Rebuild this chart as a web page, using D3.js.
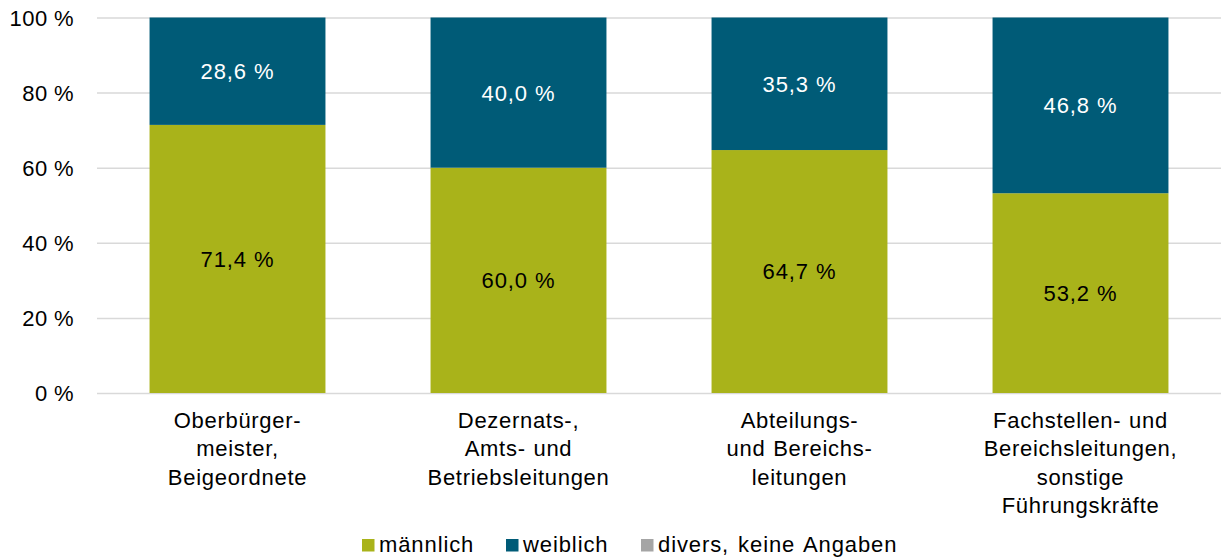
<!DOCTYPE html>
<html>
<head>
<meta charset="utf-8">
<script src="https://cdn.jsdelivr.net/npm/d3@7/dist/d3.min.js"></script>
<style>
    body { margin: 0; background: #fff; }
    svg text { font-family: "Liberation Sans", Arial, sans-serif; }
</style>
</head>
<body>
<div id="chart"></div>
<script>
// categories (lines of each axis label)
var categories = [
    ['Oberbürger-', 'meister,', 'Beigeordnete'],
    ['Dezernats-,', 'Amts- und', 'Betriebsleitungen'],
    ['Abteilungs-', 'und Bereichs-', 'leitungen'],
    ['Fachstellen- und', 'Bereichsleitungen,', 'sonstige', 'Führungskräfte']
];
var seriesNames = ['männlich', 'weiblich', 'divers, keine Angaben'];
var maennlich = [71.4, 60.0, 64.7, 53.2];
var weiblich = [28.6, 40.0, 35.3, 46.8];
var divers = [0, 0, 0, 0];
var yTicks = [0, 20, 40, 60, 80, 100];

var colors = ['#a9b31a', '#005b77', '#a5a5a5'];
var labelColors = ['#000', '#fff', '#000'];

var width = 1227, height = 559;
var margin = { top: 17.5, right: 6, bottom: 166, left: 97 };

var svg = d3.select('#chart')
    .append('svg')
    .attr('width', width)
    .attr('height', height);

var rows = categories.map(function(c, i) {
    return { idx: i, m: maennlich[i], w: weiblich[i], d: divers[i] };
});
var stack = d3.stack().keys(['m', 'w', 'd']);
var layers = stack(rows);

var xScale = d3.scaleBand()
    .domain(d3.range(categories.length))
    .range([margin.left, width - margin.right])
    .paddingInner(0.374)
    .paddingOuter(0.187);

var yScale = d3.scaleLinear()
    .domain([0, 100])
    .range([height - margin.bottom, margin.top]);

// grid lines + y labels
var yAxis = d3.axisLeft(yScale)
    .tickValues(yTicks)
    .tickSizeInner(-(width - margin.right - margin.left))
    .tickSizeOuter(0)
    .tickPadding(23)
    .tickFormat(function(d) { return d + ' %'; });

var gy = svg.append('g')
    .attr('transform', 'translate(' + margin.left + ',0)')
    .call(yAxis);
gy.select('.domain').remove();
gy.selectAll('line').attr('stroke', '#d9d9d9').attr('stroke-width', 1.5);
gy.selectAll('text')
    .attr('fill', '#000')
    .style('font-size', '22px')
    .style('letter-spacing', '0.4px')
    .attr('dy', '0.36em');

// bars
var layer = svg.selectAll('.layer')
    .data(layers)
    .enter().append('g')
    .attr('fill', function(d, i) { return colors[i]; });

layer.selectAll('rect')
    .data(function(d) { return d; })
    .enter().append('rect')
    .attr('x', function(d) { return xScale(d.data.idx); })
    .attr('width', xScale.bandwidth())
    .attr('y', function(d) { return yScale(d[1]); })
    .attr('height', function(d) { return yScale(d[0]) - yScale(d[1]); });

// data labels
layers.forEach(function(l, li) {
    svg.append('g').selectAll('text')
        .data(l.filter(function(d) { return d[1] - d[0] > 0; }))
        .enter().append('text')
        .attr('x', function(d) { return xScale(d.data.idx) + xScale.bandwidth() / 2; })
        .attr('y', function(d) { return yScale((d[0] + d[1]) / 2); })
        .attr('dy', '0.36em')
        .attr('text-anchor', 'middle')
        .attr('fill', labelColors[li])
        .style('font-size', '22px')
        .style('letter-spacing', '0.9px')
        .text(function(d) { return (d[1] - d[0]).toFixed(1).replace('.', ',') + ' %'; });
});

// category labels
var cat = svg.append('g').selectAll('text')
    .data(categories)
    .enter().append('text')
    .attr('text-anchor', 'middle')
    .attr('fill', '#000')
    .style('font-size', '22px')
    .style('letter-spacing', '0.7px')
    .style('word-spacing', '1px')
    .attr('transform', function(d, i) {
        return 'translate(' + (xScale(i) + xScale.bandwidth() / 2) + ',' + (yScale(0) + 35) + ')';
    });
cat.selectAll('tspan')
    .data(function(d) { return d; })
    .enter().append('tspan')
    .attr('x', 0)
    .attr('y', function(d, i) { return i * 28.3; })
    .text(function(d) { return d; });

// legend
var legendX = [362, 506, 641];
var legend = svg.append('g')
    .attr('transform', 'translate(0,552)');
var item = legend.selectAll('g')
    .data(seriesNames)
    .enter().append('g')
    .attr('transform', function(d, i) { return 'translate(' + legendX[i] + ',0)'; });
item.append('rect')
    .attr('x', 0)
    .attr('y', -13)
    .attr('width', 12.5)
    .attr('height', 12.5)
    .attr('fill', function(d, i) { return colors[i]; });
item.append('text')
    .attr('x', 17)
    .attr('y', 0)
    .attr('fill', '#000')
    .style('font-size', '22px')
    .style('letter-spacing', '0.9px')
    .style('word-spacing', '2px')
    .text(function(d) { return d; });
</script>
</body>
</html>
